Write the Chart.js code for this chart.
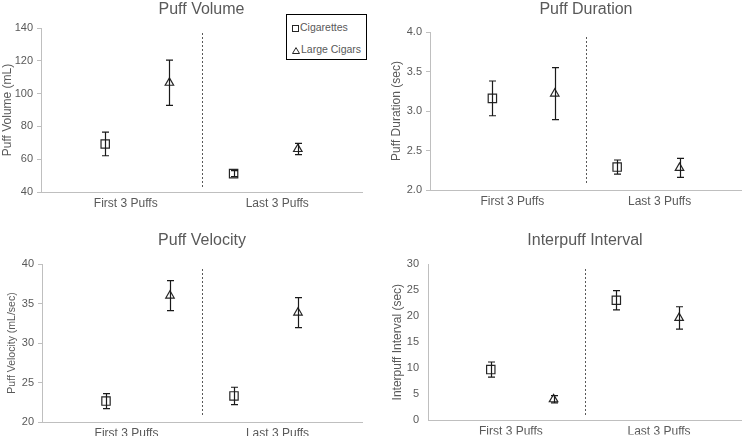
<!DOCTYPE html>
<html>
<head>
<meta charset="utf-8">
<script src="https://cdn.jsdelivr.net/npm/chart.js@4.4.1/dist/chart.umd.min.js"></script>
<style>
  body { margin: 0; background: #fff; width: 749px; height: 436px; overflow: hidden; position: relative;
         font-family: "Liberation Sans", Arial, sans-serif; }
  .panel { position: absolute; }
  #legend { position: absolute; left: 286px; top: 14px; width: 81px; height: 46px; box-sizing: border-box;
            border: 1px solid #000; background: #fff; font-size: 10.5px; color: #595959; }
  #legend .item { position: absolute; left: 5px; height: 14px; line-height: 14px; white-space: nowrap; }
  #legend svg { vertical-align: -1px; margin-right: 1px; }
</style>
</head>
<body>
<div class="panel" style="left:0;top:0;width:372px;height:215px"><canvas id="volume"></canvas></div>
<div class="panel" style="left:375px;top:0;width:374px;height:215px"><canvas id="duration"></canvas></div>
<div class="panel" style="left:0;top:215px;width:372px;height:221px"><canvas id="velocity"></canvas></div>
<div class="panel" style="left:375px;top:215px;width:374px;height:221px"><canvas id="interval"></canvas></div>
<div id="legend"></div>
<script>
// categories and series
const categories = ['First 3 Puffs', 'Last 3 Puffs'];
const categoryTickX = [1.32, 3.68];
const seriesNames = ['Cigarettes', 'Large Cigars'];
const cigX = [1, 3];
const cigarX = [2, 4];
const dividerX = 2.5;

// puff volume (mL)
const volumeCig = [69.3, 51.2];
const volumeCigErr = [7.2, 1.8];
const volumeCigar = [106.6, 66.2];
const volumeCigarErr = [13.8, 3.4];

// puff duration (sec)
const durationCig = [3.16, 2.29];
const durationCigErr = [0.22, 0.09];
const durationCigar = [3.22, 2.28];
const durationCigarErr = [0.33, 0.12];

// puff velocity (mL/sec)
const velocityCig = [22.65, 23.3];
const velocityCigErr = [0.95, 1.1];
const velocityCigar = [36.0, 33.85];
const velocityCigarErr = [1.9, 1.9];

// interpuff interval (sec)
const intervalCig = [9.75, 23.05];
const intervalCigErr = [1.45, 1.85];
const intervalCigar = [4.05, 19.65];
const intervalCigarErr = [0.7, 2.15];

const gray = '#595959';
const axisGray = '#bfbfbf';
const markerColor = '#262626';

// error bars drawn on top of markers
const errorBars = {
  id: 'errorBars',
  afterDatasetsDraw(chart) {
    const {ctx, scales: {x, y}} = chart;
    ctx.save();
    ctx.strokeStyle = '#1a1a1a';
    ctx.lineWidth = 1.2;
    chart.data.datasets.forEach(ds => {
      ds.data.forEach((p, i) => {
        const px = Math.round(x.getPixelForValue(p.x)) + 0.5;
        const top = y.getPixelForValue(p.y + ds.errors[i]);
        const bot = y.getPixelForValue(p.y - ds.errors[i]);
        ctx.beginPath();
        ctx.moveTo(px, top); ctx.lineTo(px, bot);
        ctx.moveTo(px - 3.5, top); ctx.lineTo(px + 3.5, top);
        ctx.moveTo(px - 3.5, bot); ctx.lineTo(px + 3.5, bot);
        ctx.stroke();
      });
    });
    ctx.restore();
  }
};

// dashed line between the two groups
const divider = {
  id: 'divider',
  beforeDatasetsDraw(chart) {
    const {ctx, chartArea, scales: {x}} = chart;
    const px = Math.round(x.getPixelForValue(dividerX)) + 0.5;
    ctx.save();
    ctx.strokeStyle = gray;
    ctx.lineWidth = 1;
    ctx.setLineDash([2, 2]);
    ctx.beginPath();
    ctx.moveTo(px, chartArea.top + 5);
    ctx.lineTo(px, chartArea.bottom - 5);
    ctx.stroke();
    ctx.restore();
  }
};

function makePanel(id, o) {
  const ctx = document.getElementById(id).getContext('2d');
  return new Chart(ctx, {
    type: 'scatter',
    data: {
      datasets: [{
        label: seriesNames[0],
        data: o.cig.map((v, i) => ({x: cigX[i], y: v})),
        errors: o.cigErr,
        pointStyle: 'rect',
        pointRadius: 5.9,
        borderColor: markerColor,
        backgroundColor: 'rgba(255,255,255,0)',
        borderWidth: 1.2
      }, {
        label: seriesNames[1],
        data: o.cigar.map((v, i) => ({x: cigarX[i], y: v})),
        errors: o.cigarErr,
        pointStyle: 'triangle',
        pointRadius: 4.9,
        borderColor: markerColor,
        backgroundColor: 'rgba(255,255,255,0)',
        borderWidth: 1.2
      }]
    },
    options: {
      responsive: true,
      maintainAspectRatio: false,
      animation: false,
      layout: { padding: { left: 0, right: o.w - o.right, top: 0, bottom: 0 } },
      plugins: {
        legend: { display: false },
        tooltip: { enabled: false },
        title: {
          display: true,
          text: o.title,
          fullSize: false,
          color: gray,
          font: { size: 16, weight: 'normal', family: 'Liberation Sans' },
          padding: { top: o.titleTop, bottom: o.top - o.titleTop - 19.2 }
        }
      },
      scales: {
        x: {
          type: 'linear',
          min: 0,
          max: 5,
          afterBuildTicks: s => { s.ticks = categoryTickX.map(v => ({value: v})); },
          afterFit: s => { s.height = o.h - o.bottom; },
          grid: { display: false, drawTicks: false },
          border: { display: true, color: axisGray, width: 1 },
          ticks: {
            autoSkip: false,
            maxRotation: 0,
            padding: 4,
            color: gray,
            font: { size: 12, family: 'Liberation Sans' },
            callback: (v, i) => categories[i]
          }
        },
        y: {
          min: o.yMin,
          max: o.yMax,
          afterFit: s => { s.width = o.left; },
          grid: { display: true, drawOnChartArea: false, drawTicks: o.yTicks, tickLength: 4, color: axisGray },
          border: { display: true, color: axisGray, width: 1 },
          title: {
            display: true,
            text: o.yTitle,
            color: gray,
            font: { size: o.yTitleSize, family: 'Liberation Sans' },
            padding: { top: o.yTitlePad, bottom: 0 }
          },
          ticks: {
            stepSize: o.step,
            padding: o.yTicks ? 4 : 9,
            color: gray,
            font: { size: 11, family: 'Liberation Sans' },
            callback: v => v.toFixed(o.decimals)
          }
        }
      }
    },
    plugins: [divider, errorBars]
  });
}

makePanel('volume', {
  title: 'Puff Volume', yTitle: 'Puff Volume (mL)', yTitleSize: 12, yTitlePad: 0, yTicks: true,
  yMin: 40, yMax: 140, step: 20, decimals: 0,
  cig: volumeCig, cigErr: volumeCigErr, cigar: volumeCigar, cigarErr: volumeCigarErr,
  w: 372, h: 215, left: 41, right: 362, top: 28, bottom: 192, titleTop: 0
});
makePanel('duration', {
  title: 'Puff Duration', yTitle: 'Puff Duration (sec)', yTitleSize: 12, yTitlePad: 14.5, yTicks: true,
  yMin: 2, yMax: 4, step: 0.5, decimals: 1,
  cig: durationCig, cigErr: durationCigErr, cigar: durationCigar, cigarErr: durationCigarErr,
  w: 374, h: 215, left: 55, right: 372, top: 32, bottom: 190, titleTop: 0
});
makePanel('velocity', {
  title: 'Puff Velocity', yTitle: 'Puff Velocity (mL/sec)', yTitleSize: 10.5, yTitlePad: 6, yTicks: true,
  yMin: 20, yMax: 40, step: 5, decimals: 0,
  cig: velocityCig, cigErr: velocityCigErr, cigar: velocityCigar, cigarErr: velocityCigarErr,
  w: 372, h: 221, left: 42, right: 362, top: 49, bottom: 207, titleTop: 15.5
});
makePanel('interval', {
  title: 'Interpuff Interval', yTitle: 'Interpuff Interval (sec)', yTitleSize: 12, yTitlePad: 15, yTicks: false,
  yMin: 0, yMax: 30, step: 5, decimals: 0,
  cig: intervalCig, cigErr: intervalCigErr, cigar: intervalCigar, cigarErr: intervalCigarErr,
  w: 374, h: 221, left: 53, right: 372, top: 49, bottom: 207, titleTop: 15.5
});

// boxed legend for the first panel
const symbols = [
  '<svg width="7" height="7"><rect x="0.5" y="0.5" width="6" height="6" fill="none" stroke="#262626" stroke-width="1"/></svg>',
  '<svg width="8" height="7"><polygon points="4,0.6 7.5,6.5 0.5,6.5" fill="none" stroke="#262626" stroke-width="1"/></svg>'
];
const legendTops = [5, 27];
document.getElementById('legend').innerHTML = seriesNames.map((name, i) =>
  '<div class="item" style="top:' + legendTops[i] + 'px">' + symbols[i] + name + '</div>').join('');
</script>
</body>
</html>
